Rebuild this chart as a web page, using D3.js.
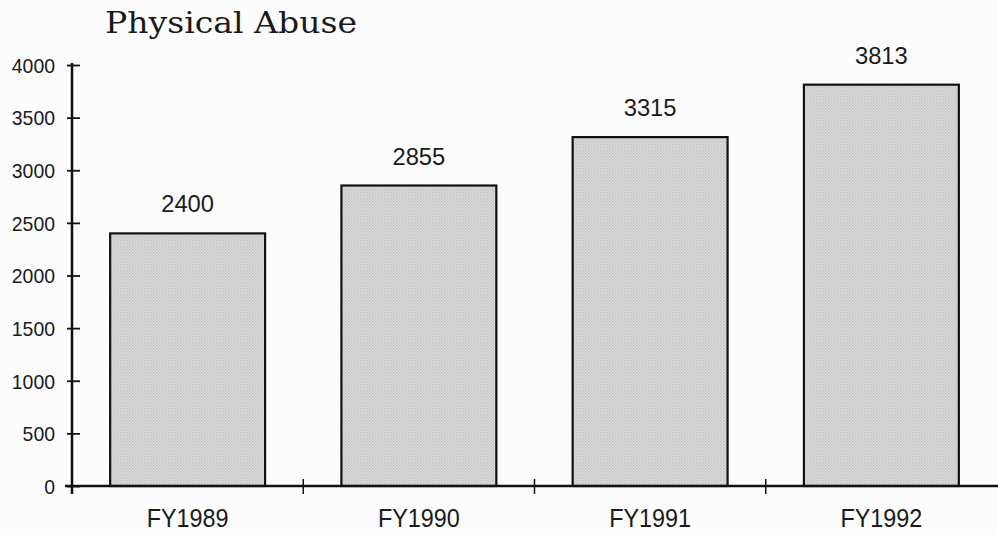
<!DOCTYPE html>
<html>
<head>
<meta charset="utf-8">
<script src="https://cdn.jsdelivr.net/npm/d3@7"></script>
<style>
  html, body { margin: 0; padding: 0; background: #fcfcfc; }
  svg { display: block; }
</style>
</head>
<body>
<svg id="chart" width="998" height="535"></svg>
<script>
const title = "Physical Abuse";
const categories = ["FY1989", "FY1990", "FY1991", "FY1992"];
const values = [2400, 2855, 3315, 3813];
const yTicks = [0, 500, 1000, 1500, 2000, 2500, 3000, 3500, 4000];

const svg = d3.select("#chart");
const sansFont = "'Liberation Sans', 'DejaVu Sans', sans-serif";

const y = d3.scaleLinear().domain([0, 4000]).range([486, 65]);
const x = d3.scaleBand().domain(categories).range([72, 997])
  .paddingInner(0.33).paddingOuter(0.165);

// pattern for halftone-like gray fill
const defs = svg.append("defs");
const pat = defs.append("pattern").attr("id", "dots")
  .attr("width", 3).attr("height", 3).attr("patternUnits", "userSpaceOnUse");
pat.append("rect").attr("width", 3).attr("height", 3).attr("fill", "#dedede");
pat.append("rect").attr("x", 0).attr("y", 0).attr("width", 1.5).attr("height", 1.5).attr("fill", "#c0c0c0");
pat.append("rect").attr("x", 1.5).attr("y", 1.5).attr("width", 1.5).attr("height", 1.5).attr("fill", "#c9c9c9");

// title
svg.append("text")
  .attr("x", 105).attr("y", 33)
  .attr("font-family", "'DejaVu Serif', 'Liberation Serif', serif")
  .attr("font-size", 29)
  .attr("fill", "#1a1a1a")
  .attr("textLength", 252).attr("lengthAdjust", "spacingAndGlyphs")
  .text(title);

// bars
svg.append("g").selectAll("rect").data(values).join("rect")
  .attr("x", (d, i) => x(categories[i]))
  .attr("y", d => y(d))
  .attr("width", x.bandwidth())
  .attr("height", d => y(0) - y(d))
  .attr("fill", "url(#dots)")
  .attr("stroke", "#111")
  .attr("stroke-width", 2.2);

// value labels
svg.append("g").selectAll("text").data(values).join("text")
  .attr("x", (d, i) => x(categories[i]) + x.bandwidth() / 2)
  .attr("y", d => y(d) - 21)
  .attr("text-anchor", "middle")
  .attr("font-family", sansFont)
  .attr("font-size", 23)
  .attr("fill", "#1a1a1a")
  .attr("textLength", d => String(d).length * 13.2)
  .attr("lengthAdjust", "spacingAndGlyphs")
  .text(d => d);

// y axis
const yAxis = svg.append("g").attr("transform", "translate(72,0)")
  .call(d3.axisLeft(y).tickValues(yTicks).tickFormat(d3.format("d"))
    .tickSize(5).tickPadding(12).tickSizeOuter(0));
yAxis.select(".domain").attr("stroke", "#111").attr("stroke-width", 2.5)
  .attr("d", `M0,${y(4000) - 2}V${y(0) + 8}`);
yAxis.selectAll(".tick line").attr("x1", 8).attr("x2", -5)
  .attr("stroke", "#111").attr("stroke-width", 1.8);
yAxis.selectAll(".tick text")
  .attr("font-family", sansFont)
  .attr("font-size", 21)
  .attr("fill", "#1a1a1a")
  .attr("dy", "0.35em")
  .attr("textLength", d => String(d).length * 10.8)
  .attr("lengthAdjust", "spacingAndGlyphs");

// x axis line
svg.append("line")
  .attr("x1", 65).attr("x2", 998)
  .attr("y1", y(0)).attr("y2", y(0))
  .attr("stroke", "#111").attr("stroke-width", 2.5);

// x tick marks between categories
const step = x.step();
const boundaries = categories.slice(1).map(c => x(c) - step * x.paddingInner() / 2);
svg.append("g").selectAll("line").data(boundaries).join("line")
  .attr("x1", d => d).attr("x2", d => d)
  .attr("y1", y(0) - 7).attr("y2", y(0) + 8)
  .attr("stroke", "#111").attr("stroke-width", 1.5);

// category labels
svg.append("g").selectAll("text").data(categories).join("text")
  .attr("x", d => x(d) + x.bandwidth() / 2)
  .attr("y", 527)
  .attr("text-anchor", "middle")
  .attr("font-family", sansFont)
  .attr("font-size", 25)
  .attr("fill", "#1a1a1a")
  .attr("textLength", 82)
  .attr("lengthAdjust", "spacingAndGlyphs")
  .text(d => d);
</script>
</body>
</html>
